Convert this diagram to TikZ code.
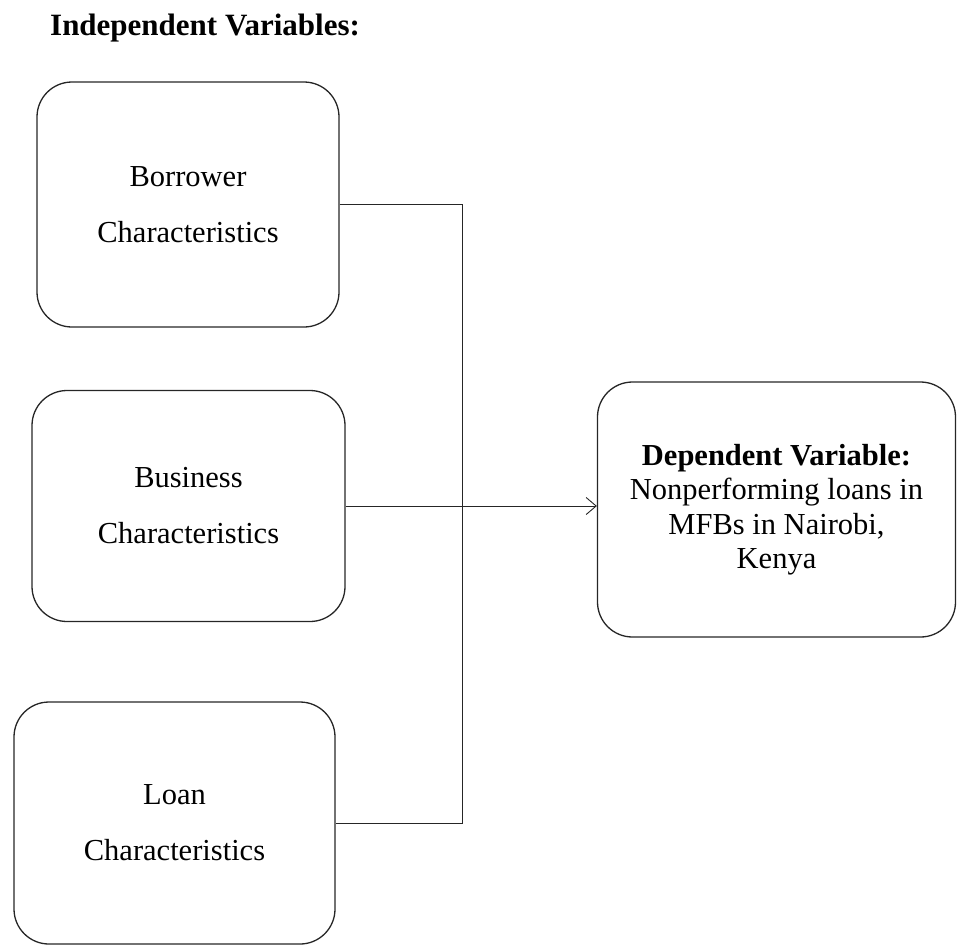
\documentclass[tikz,border=0pt]{standalone}
\usepackage{fontspec}
\setmainfont{Liberation Serif}
\usetikzlibrary{arrows.meta}
\begin{document}
\begin{tikzpicture}[x=1pt,y=-1pt,
  varbox/.style={draw=black!85, line width=1.3pt, rounded corners=35pt, inner sep=0pt,
    align=center, font=\fontsize{30.5pt}{56pt}\selectfont},
  depbox/.style={draw=black!85, line width=1.3pt, rounded corners=35pt, inner sep=0pt,
    align=center, font=\fontsize{30.5pt}{34.5pt}\selectfont},
  link/.style={draw=black!85, line width=0.9pt},
  titletext/.style={font=\fontsize{31pt}{36pt}\selectfont\bfseries, inner sep=0pt}]
\useasboundingbox (0,0) rectangle (958,946);
\node[titletext, anchor=base west] (title) at (50,35) {Independent Variables:};
\node[varbox, minimum width=302pt, minimum height=245pt] (b1) at (188,204.5)
  {Borrower\\Characteristics};
\node[varbox, minimum width=313pt, minimum height=231pt] (b2) at (188.5,506)
  {Business\\Characteristics};
\node[varbox, minimum width=321pt, minimum height=242pt] (b3) at (174.5,823)
  {Loan\\Characteristics};
\node[depbox, minimum width=358pt, minimum height=255pt] (b4) at (776.5,509.5)
  {\textbf{Dependent Variable:}\\Nonperforming loans in\\MFBs in Nairobi,\\Kenya};
\coordinate (bus) at (462,500);
\draw[link] (b1.east) -- (b1.east -| bus) |- (b3.east);
\draw[link, -{Straight Barb[length=10pt,width=17pt,line width=0.9pt]}] (b2.east) -- (b2.east -| b4.west);
\end{tikzpicture}
\end{document}
